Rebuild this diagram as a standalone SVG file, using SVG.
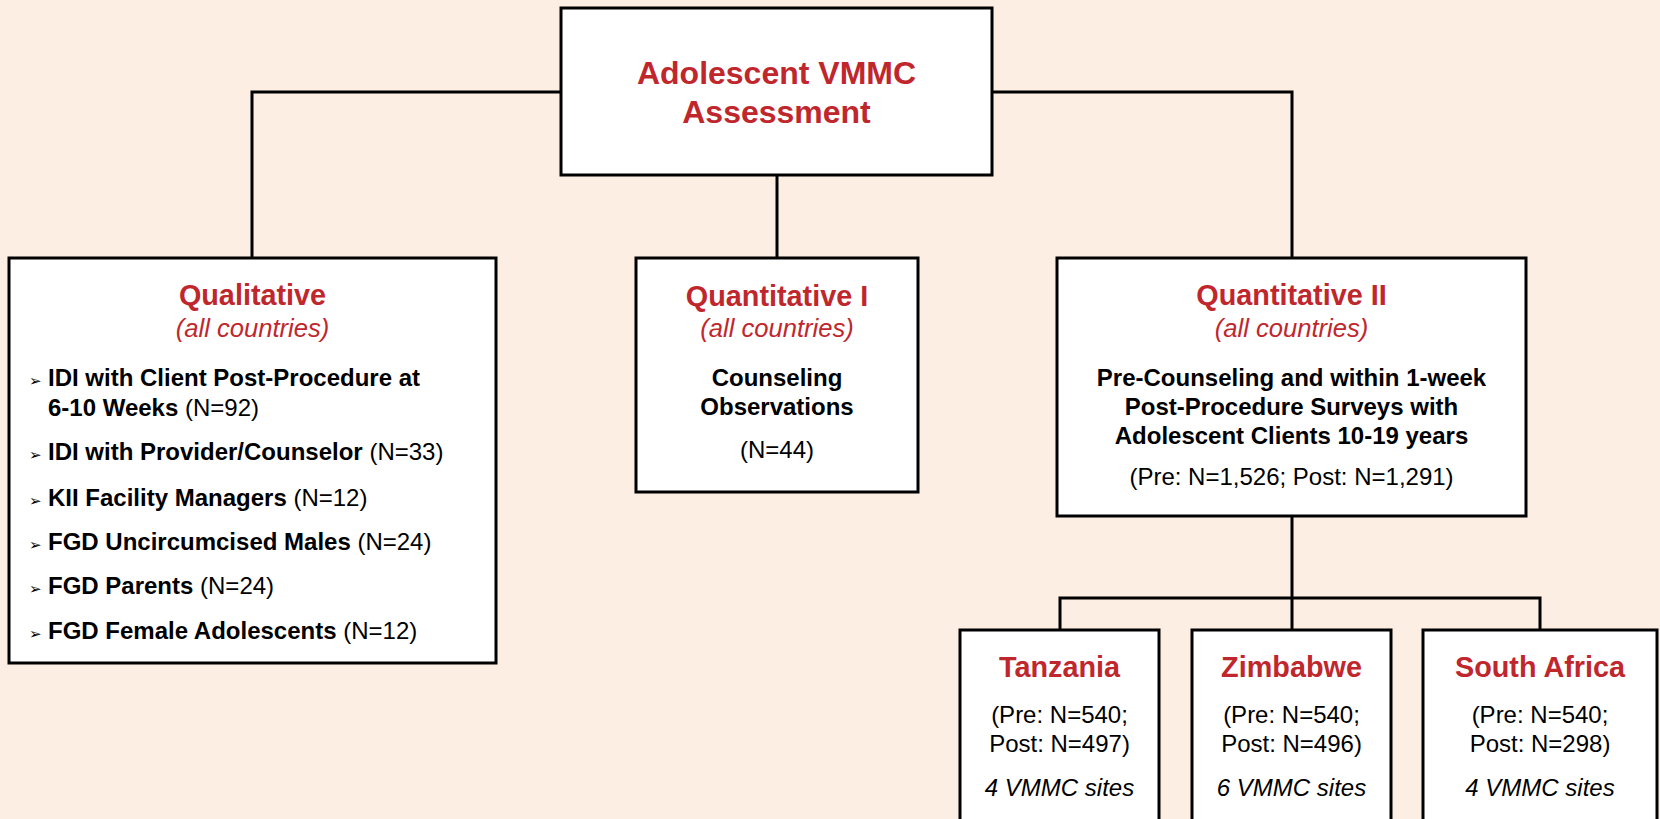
<svg xmlns="http://www.w3.org/2000/svg" width="1660" height="819" viewBox="0 0 1660 819">
<style>
.box{fill:#ffffff;stroke:#000000;stroke-width:3}
.con{fill:none;stroke:#000000;stroke-width:3}
text{font-family:"Liberation Sans",Arial,sans-serif;fill:#000000}
.main{font-size:32px;font-weight:bold;fill:#C0272D;text-anchor:middle}
.ttl{font-size:28.8px;font-weight:bold;fill:#C0272D;text-anchor:middle}
.sub{font-size:25.6px;font-style:italic;fill:#C0272D;text-anchor:middle}
.bodyc{font-size:24px;text-anchor:middle}
.b{font-weight:bold}
.it{font-style:italic}
.item{font-size:24px}
.bul{font-family:"DejaVu Sans",sans-serif;font-size:15px}
</style>
<rect x="0" y="0" width="1660" height="819" fill="#FCEEE3"/>
<g id="connectors">
<polyline class="con" points="561,92 252,92 252,258"/>
<line class="con" x1="777" y1="175" x2="777" y2="258"/>
<polyline class="con" points="992,92 1292,92 1292,258"/>
<line class="con" x1="1292" y1="516" x2="1292" y2="630"/>
<polyline class="con" points="1060,630 1060,598 1540,598 1540,630"/>
</g>
<g id="root">
<rect class="box" x="561" y="8" width="431" height="167"/>
<text class="main" x="776.5" y="84">Adolescent VMMC</text>
<text class="main" x="776.5" y="123">Assessment</text>
</g>
<g id="qualitative">
<rect class="box" x="9" y="258" width="487" height="405"/>
<text class="ttl" x="252.5" y="305">Qualitative</text>
<text class="sub" x="252.5" y="337">(all countries)</text>
<text class="bul" x="29" y="386">➢</text>
<text class="item" x="48" y="386"><tspan class="b">IDI with Client Post-Procedure at</tspan></text>
<text class="item" x="48" y="416"><tspan class="b">6-10 Weeks</tspan> (N=92)</text>
<text class="bul" x="29" y="460">➢</text>
<text class="item" x="48" y="460"><tspan class="b">IDI with Provider/Counselor</tspan> (N=33)</text>
<text class="bul" x="29" y="506">➢</text>
<text class="item" x="48" y="506"><tspan class="b">KII Facility Managers</tspan> (N=12)</text>
<text class="bul" x="29" y="550">➢</text>
<text class="item" x="48" y="550"><tspan class="b">FGD Uncircumcised Males</tspan> (N=24)</text>
<text class="bul" x="29" y="594">➢</text>
<text class="item" x="48" y="594"><tspan class="b">FGD Parents</tspan> (N=24)</text>
<text class="bul" x="29" y="639">➢</text>
<text class="item" x="48" y="639"><tspan class="b">FGD Female Adolescents</tspan> (N=12)</text>
</g>
<g id="quant1">
<rect class="box" x="636" y="258" width="282" height="234"/>
<text class="ttl" x="777" y="306">Quantitative I</text>
<text class="sub" x="777" y="337">(all countries)</text>
<text class="bodyc b" x="777" y="386">Counseling</text>
<text class="bodyc b" x="777" y="415">Observations</text>
<text class="bodyc" x="777" y="458">(N=44)</text>
</g>
<g id="quant2">
<rect class="box" x="1057" y="258" width="469" height="258"/>
<text class="ttl" x="1291.5" y="305">Quantitative II</text>
<text class="sub" x="1291.5" y="337">(all countries)</text>
<text class="bodyc b" x="1291.5" y="386">Pre-Counseling and within 1-week</text>
<text class="bodyc b" x="1291.5" y="415">Post-Procedure Surveys with</text>
<text class="bodyc b" x="1291.5" y="444">Adolescent Clients 10-19 years</text>
<text class="bodyc" x="1291.5" y="485">(Pre: N=1,526; Post: N=1,291)</text>
</g>
<g id="tanzania">
<rect class="box" x="960" y="630" width="199" height="210"/>
<text class="ttl" x="1059.5" y="677">Tanzania</text>
<text class="bodyc" x="1059.5" y="723">(Pre: N=540;</text>
<text class="bodyc" x="1059.5" y="752">Post: N=497)</text>
<text class="bodyc it" x="1059.5" y="796">4 VMMC sites</text>
</g>
<g id="zimbabwe">
<rect class="box" x="1192" y="630" width="199" height="210"/>
<text class="ttl" x="1291.5" y="677">Zimbabwe</text>
<text class="bodyc" x="1291.5" y="723">(Pre: N=540;</text>
<text class="bodyc" x="1291.5" y="752">Post: N=496)</text>
<text class="bodyc it" x="1291.5" y="796">6 VMMC sites</text>
</g>
<g id="southafrica">
<rect class="box" x="1423" y="630" width="234" height="210"/>
<text class="ttl" x="1540" y="677">South Africa</text>
<text class="bodyc" x="1540" y="723">(Pre: N=540;</text>
<text class="bodyc" x="1540" y="752">Post: N=298)</text>
<text class="bodyc it" x="1540" y="796">4 VMMC sites</text>
</g>
</svg>
